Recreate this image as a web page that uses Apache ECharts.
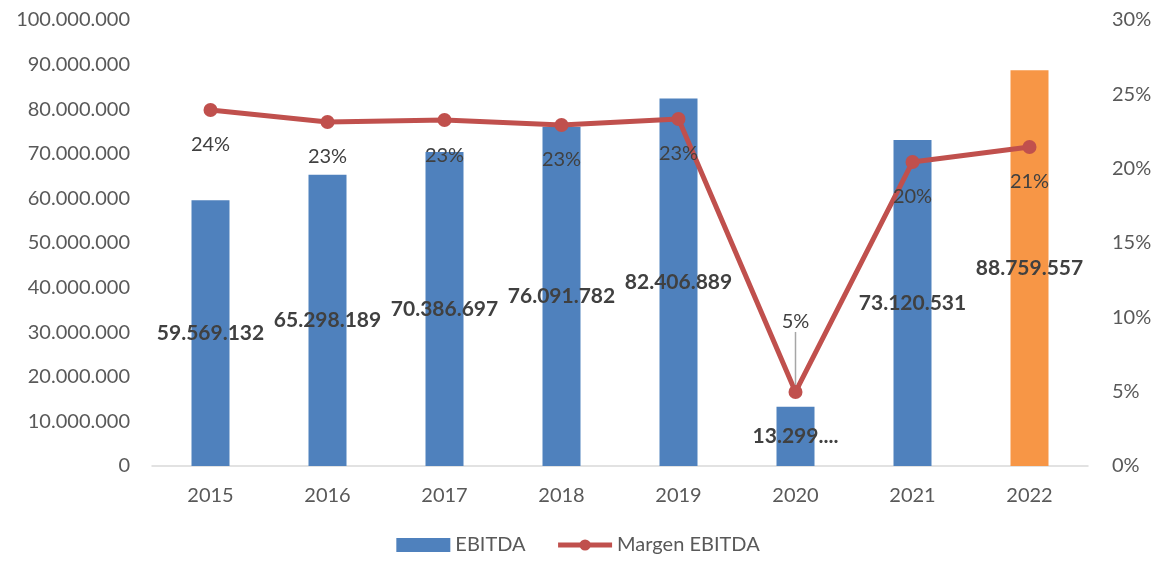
<!DOCTYPE html>
<html>
<head>
<meta charset="utf-8">
<script src="https://cdn.jsdelivr.net/npm/echarts@6/dist/echarts.min.js"></script>
<style>
  html, body { margin: 0; padding: 0; background: #fff; }
  #chart { width: 1156px; height: 562px; }
</style>
</head>
<body>
<div id="chart"></div>
<script>
// data
const years = ['2015', '2016', '2017', '2018', '2019', '2020', '2021', '2022']
const ebitda = [59569132, 65298189, 70386697, 76091782, 82406889, 13299412, 73120531, 88759557]
const margin = [0.2395, 0.2314, 0.2327, 0.2294, 0.2334, 0.0498, 0.2045, 0.2146]
const barColors = ['#4f81bd', '#4f81bd', '#4f81bd', '#4f81bd', '#4f81bd', '#4f81bd', '#4f81bd', '#f79646']

const FONT = 'Lato'

// 59569132 -> 59.569.132
function dots(v) {
  return String(Math.round(v)).replace(/\B(?=(\d{3})+(?!\d))/g, '.')
}

const chart = echarts.init(document.getElementById('chart'))

const option = {
  animation: false,
  textStyle: { fontFamily: FONT },
  grid: { left: 152, right: 68, top: 20, bottom: 96 },
  legend: {
    bottom: 2,
    left: 'center',
    itemGap: 30,
    textStyle: { fontSize: 20, color: '#595959', fontFamily: FONT },
    data: [
      { name: 'EBITDA', icon: 'rect', itemStyle: { color: '#4f81bd' } },
      { name: 'Margen EBITDA', lineStyle: { width: 5 } }
    ],
    itemWidth: 54,
    itemHeight: 14
  },
  xAxis: {
    type: 'category',
    data: years,
    axisLine: { lineStyle: { color: '#d9d9d9', width: 1.5 } },
    axisTick: { show: false },
    axisLabel: { fontSize: 20, color: '#595959', margin: 20 }
  },
  yAxis: [
    {
      type: 'value',
      min: 0,
      max: 100000000,
      interval: 10000000,
      splitLine: { show: false },
      axisLabel: { fontSize: 20, color: '#595959', margin: 22, formatter: v => dots(v) }
    },
    {
      type: 'value',
      min: 0,
      max: 0.3,
      interval: 0.05,
      splitLine: { show: false },
      axisLabel: { fontSize: 20, color: '#595959', margin: 24, formatter: v => Math.round(v * 100) + '%' }
    }
  ],
  series: [
    {
      name: 'EBITDA',
      type: 'bar',
      barWidth: 38,
      data: ebitda.map((v, i) => ({ value: v, itemStyle: { color: barColors[i] } })),
      label: {
        show: true,
        position: 'inside',
        fontSize: 21,
        fontWeight: 'bold',
        color: '#404040',
        formatter: p => p.dataIndex === 5 ? dots(p.value).slice(0, 6) + '....' : dots(p.value)
      }
    },
    {
      name: 'Margen EBITDA',
      type: 'line',
      yAxisIndex: 1,
      z: 5,
      symbol: 'circle',
      symbolSize: 14,
      itemStyle: { color: '#c0504d' },
      lineStyle: { color: '#c0504d', width: 5 },
      data: margin.map((v, i) => i === 5
        ? { value: v, label: { position: 'top', distance: 52 }, labelLine: { show: true } }
        : { value: v }),
      label: {
        show: true,
        position: 'bottom',
        distance: 18,
        fontSize: 20,
        color: '#404040',
        formatter: p => Math.round(p.value * 100) + '%'
      },
      labelLine: { show: false, lineStyle: { color: '#a6a6a6', width: 1.5 } },
      labelLayout: p => p.dataIndex === 5 ? { dy: -1 } : {}
    }
  ]
}

chart.setOption(option)
</script>
</body>
</html>
